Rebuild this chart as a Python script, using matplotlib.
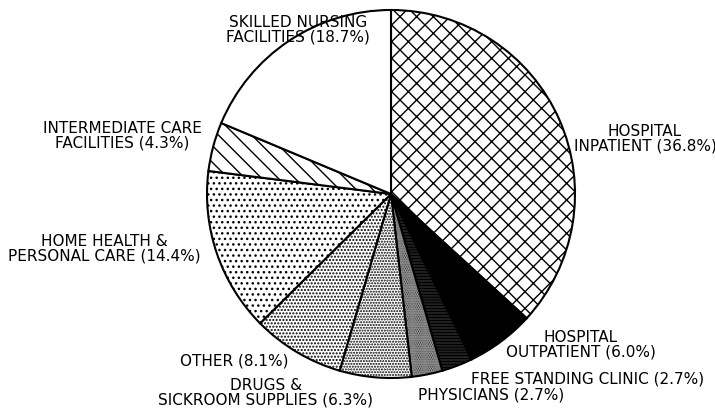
import matplotlib.pyplot as plt

plt.rcParams['hatch.linewidth'] = 1.0
plt.rcParams['hatch.color'] = 'black'

# dados do grafico (sentido horario a partir das 12h)
categorias = [
    'HOSPITAL\nINPATIENT', 'HOSPITAL\nOUTPATIENT', 'FREE STANDING CLINIC',
    'PHYSICIANS', 'DRUGS &\nSICKROOM SUPPLIES', 'OTHER',
    'HOME HEALTH &\nPERSONAL CARE', 'INTERMEDIATE CARE\nFACILITIES',
    'SKILLED NURSING\nFACILITIES',
]
percentuais = [36.8, 6.0, 2.7, 2.7, 6.3, 8.1, 14.4, 4.3, 18.7]

# estilo de cada fatia
cores = ['white', 'black', 'white', 'white', 'white', 'white', 'white', 'white', 'white']
hachuras = ['xx', None, '-----------', '.........', '......', '.....', '...', '\\\\', None]

# posicao dos rotulos (pixels da figura)
pos_rotulos = [(645, 139), (581, 345), (588, 379), (491, 395), (266, 393),
               (234, 361), (104, 249), (122, 136), (298, 30)]

fig = plt.figure(figsize=(7.15, 4.10), dpi=100)
ax = fig.add_axes([(391 - 184) / 715, (410 - 195 - 184) / 410, 368 / 715, 368 / 410])

fatias, _ = ax.pie(percentuais, startangle=90, counterclock=False, colors=cores,
                   wedgeprops={'edgecolor': 'black', 'linewidth': 1.5})
for fatia, h in zip(fatias, hachuras):
    if h:
        fatia.set_hatch(h)

ax.set_xlim(-1, 1)
ax.set_ylim(-1, 1)
ax.set_aspect('equal')
ax.axis('off')

for nome, valor, (px, py) in zip(categorias, percentuais, pos_rotulos):
    fig.text(px / 715, 1 - py / 410, f'{nome} ({valor:.1f}%)', ha='center', va='center',
             multialignment='center', fontsize=11, linespacing=0.95)

fig.savefig('out.png', dpi=100)
